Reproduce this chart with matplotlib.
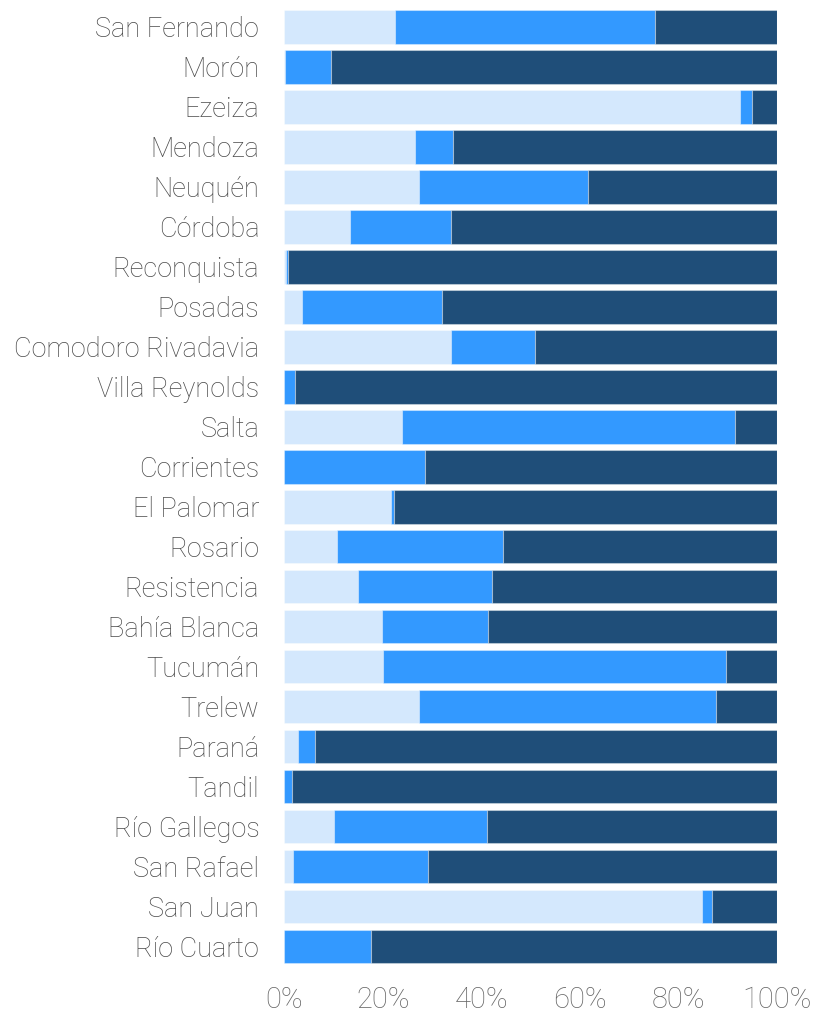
import matplotlib.pyplot as plt
import numpy as np

# categories top -> bottom
cities = ['San Fernando', 'Morón', 'Ezeiza', 'Mendoza', 'Neuquén', 'Córdoba',
          'Reconquista', 'Posadas', 'Comodoro Rivadavia', 'Villa Reynolds',
          'Salta', 'Corrientes', 'El Palomar', 'Rosario', 'Resistencia',
          'Bahía Blanca', 'Tucumán', 'Trelew', 'Paraná', 'Tandil',
          'Río Gallegos', 'San Rafael', 'San Juan', 'Río Cuarto']

# share of each segment (%)
light = [22.5, 0.2, 92.5, 26.6, 27.4, 13.3, 0.3, 3.6, 33.9, 0.0,
         23.8, 0.0, 21.7, 10.8, 15.0, 19.8, 20.0, 27.4, 2.8, 0.0,
         10.1, 1.8, 84.8, 0.0]
medium = [52.7, 9.2, 2.5, 7.7, 34.2, 20.6, 0.4, 28.4, 17.1, 2.2,
          67.7, 28.6, 0.5, 33.6, 27.2, 21.5, 69.6, 60.2, 3.5, 1.5,
          31.1, 27.4, 2.0, 17.7]
dark = [100 - a - b for a, b in zip(light, medium)]

xticks = [0, 20, 40, 60, 80, 100]

c_light = '#d4e8fd'
c_med = '#3399ff'
c_dark = '#1f4e79'

plt.rcParams['font.family'] = ['Roboto', 'DejaVu Sans']

fig = plt.figure(figsize=(8.17, 10.22), dpi=100)
ax = fig.add_axes([0.348, 0.0543, 0.6027, 0.9389])

y = np.arange(len(cities))
light = np.array(light)
medium = np.array(medium)
dark = np.array(dark)
kw = dict(height=0.84, edgecolor=(1, 1, 1, 0.35), linewidth=0.8)
ax.barh(y, light, color=c_light, **kw)
ax.barh(y, medium, left=light, color=c_med, **kw)
ax.barh(y, dark, left=light + medium, color=c_dark, **kw)

ax.set_ylim(len(cities) - 0.5, -0.5)
ax.set_xlim(0, 100)
ax.set_yticks(y)
ax.set_yticklabels(cities, fontsize=19.5, color='#4a4a4a', fontweight='light')
ax.set_xticks(xticks)
ax.set_xticklabels([f'{t}%' for t in xticks], fontsize=21, color='#666666',
                   fontweight='light')
ax.tick_params(axis='y', length=0, pad=18)
ax.tick_params(axis='x', length=0, pad=14)
for s in ax.spines.values():
    s.set_visible(False)

fig.savefig('out.png', dpi=100)
